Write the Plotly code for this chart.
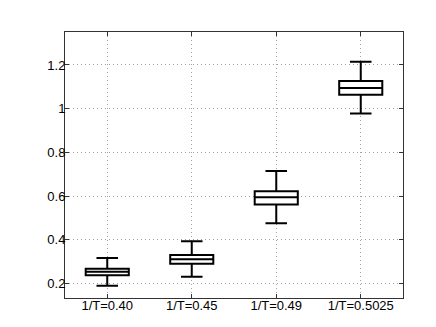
import plotly.graph_objects as go

categories = ["1/T=0.40", "1/T=0.45", "1/T=0.49", "1/T=0.5025"]
lower_whisker = [0.189, 0.230, 0.475, 0.978]
q1 = [0.237, 0.290, 0.561, 1.064]
median = [0.253, 0.311, 0.594, 1.095]
q3 = [0.267, 0.330, 0.622, 1.127]
upper_whisker = [0.316, 0.393, 0.715, 1.215]

fig = go.Figure()
fig.add_trace(go.Box(
    x=categories, q1=q1, median=median, q3=q3,
    lowerfence=lower_whisker, upperfence=upper_whisker,
    boxpoints=False, width=0.51, whiskerwidth=0.5,
    fillcolor="white", line=dict(color="black", width=2),
))

axis_common = dict(
    showline=True, linecolor="#333333", linewidth=1, mirror="ticks",
    ticks="inside", ticklen=4, tickcolor="#333333",
    showgrid=True, gridcolor="#a0a0a0", griddash="1px,3px", gridwidth=1,
    zeroline=False, tickfont=dict(family="Liberation Sans", size=13, color="black"),
)
fig.update_xaxes(range=[-0.5, 3.5], ticklabelstandoff=-5, **axis_common)
fig.update_yaxes(range=[0.133, 1.351], tickvals=[0.2, 0.4, 0.6, 0.8, 1.0, 1.2],
                 ticktext=["0.2", "0.4", "0.6", "0.8", "1", "1.2"],
                 ticklabelstandoff=-4, **axis_common)

fig.update_layout(
    width=436, height=327, showlegend=False,
    plot_bgcolor="white", paper_bgcolor="white",
    margin=dict(l=57, r=41, t=24, b=37),
)
fig.write_html("out.html")
